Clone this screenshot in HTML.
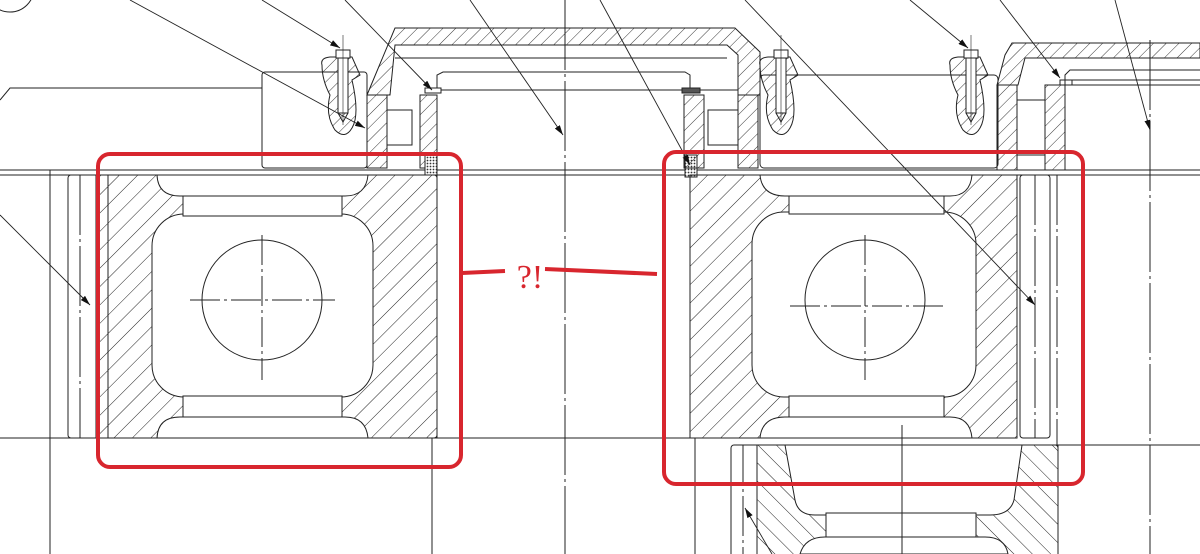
<!DOCTYPE html>
<html><head><meta charset="utf-8"><style>
html,body{margin:0;padding:0;background:#fff;width:1200px;height:554px;overflow:hidden}
svg{display:block}
</style></head><body>
<svg width="1200" height="554" viewBox="0 0 1200 554" xmlns="http://www.w3.org/2000/svg">
<defs>
<pattern id="h1" width="13" height="13" patternUnits="userSpaceOnUse" patternTransform="rotate(45)">
<line x1="0" y1="0" x2="0" y2="13" stroke="#222" stroke-width="1"/></pattern>
<pattern id="h2" width="13" height="13" patternUnits="userSpaceOnUse" patternTransform="rotate(-45)">
<line x1="0" y1="0" x2="0" y2="13" stroke="#222" stroke-width="1"/></pattern>
<pattern id="h3" width="9" height="9" patternUnits="userSpaceOnUse" patternTransform="rotate(45)">
<line x1="0" y1="0" x2="0" y2="9" stroke="#222" stroke-width="0.9"/></pattern>
<pattern id="x" width="3" height="3" patternUnits="userSpaceOnUse">
<rect width="3" height="3" fill="#fff"/><circle cx="1.5" cy="1.5" r="0.9" fill="#333"/></pattern>
<marker id="a" markerWidth="10" markerHeight="6" refX="10" refY="3" orient="auto" markerUnits="userSpaceOnUse">
<path d="M0,0 L10,3 L0,6z" fill="#111"/></marker>
</defs>
<g fill="none" stroke="#222" stroke-width="1">
<circle cx="10" cy="-12" r="24"/>
<path d="M0,100 L10,88 L262,88"/>
<line x1="0" y1="170" x2="1200" y2="170"/>
<line x1="0" y1="175" x2="1200" y2="175"/>
<line x1="0" y1="438" x2="700" y2="438"/>
<line x1="1040" y1="445" x2="1200" y2="445"/>
<line x1="50" y1="170" x2="50" y2="554"/>
<line x1="432" y1="438" x2="432" y2="554"/>
<line x1="565" y1="0" x2="565" y2="554" stroke-dasharray="70 4 3 4"/>
<line x1="1150" y1="40" x2="1150" y2="554" stroke-dasharray="70 4 3 4"/>
<line x1="695" y1="438" x2="695" y2="554"/>
<rect x="262" y="72" width="105" height="96" rx="3"/>
<path d="M367,95 L395,28 L735,28 L760,52 L760,95 L738,95 L738,55 L727,45 L395,45 L390,95 Z" fill="url(#h3)"/>
<line x1="395" y1="58" x2="727" y2="58"/>
<path d="M437,90 L437,75 L443,72 L685,72 L690,75 L690,90 Z"/>
<line x1="437" y1="90" x2="738" y2="90"/>
<rect x="425" y="88" width="16" height="5" fill="#fff"/>
<rect x="682" y="88" width="18" height="5" fill="#555"/>
<rect x="367" y="95" width="20" height="73" fill="url(#h3)"/>
<rect x="420" y="95" width="17" height="73" fill="url(#h3)"/>
<rect x="387" y="110" width="25" height="35"/>
<rect x="425" y="155" width="12" height="20" fill="url(#x)"/>
<rect x="685" y="155" width="12" height="22" fill="url(#x)"/>
<rect x="684" y="95" width="20" height="73" fill="url(#h3)"/>
<rect x="738" y="95" width="20" height="73" fill="url(#h3)"/>
<rect x="708" y="110" width="30" height="35"/>
<rect x="760" y="75" width="238" height="93" rx="4"/>
<path d="M997,85 L1005,55 L1012,43 L1200,43 L1200,58 L1025,58 L1018,85 Z" fill="url(#h3)"/>
<path d="M1065,85 L1065,75 L1070,70 L1200,70"/><line x1="1065" y1="80" x2="1200" y2="80"/><line x1="1065" y1="85" x2="1200" y2="85"/>
<rect x="1060" y="80" width="12" height="5"/>
<rect x="997" y="85" width="20" height="85" fill="url(#h3)"/>
<rect x="1045" y="85" width="20" height="85" fill="url(#h3)"/>
<rect x="1017" y="100" width="28" height="55"/>
<g id="b">
<path d="M322,65 Q320,58 330,57 L352,57 L360,75 L352,80 Q360,115 352,128 Q345,140 335,130 Q325,115 330,95 Q322,80 322,65Z" fill="url(#h3)"/>
<rect x="336" y="50" width="14" height="8" fill="#fff"/>
<rect x="338" y="58" width="10" height="55" fill="#fff"/>
<path d="M338,113 L343,122 L348,113"/>
<line x1="343" y1="35" x2="343" y2="125" stroke-width="0.6"/>
</g>
<use href="#b" x="438"/>
<use href="#b" x="628"/>
<rect x="68" y="175" width="369" height="263" rx="3"/>
<line x1="80" y1="175" x2="80" y2="438" stroke-dasharray="60 4 3 4"/>
<rect x="96" y="175" width="341" height="263" fill="url(#h1)"/>
<rect x="152" y="214" width="221" height="183" rx="32" fill="#fff"/>
<rect x="183" y="196" width="159" height="20" fill="#fff"/>
<path d="M157,175 Q158,196 180,196 L345,196 Q366,196 368,175 Z" fill="#fff"/>
<rect x="183" y="396" width="159" height="21" fill="#fff"/>
<path d="M157,438 Q158,417 180,417 L345,417 Q366,417 368,438 Z" fill="#fff"/>
<line x1="108" y1="175" x2="108" y2="438"/>
<circle cx="262" cy="300" r="60"/>
<line x1="190" y1="300" x2="335" y2="300" stroke-dasharray="30 4 3 4"/>
<line x1="262" y1="235" x2="262" y2="380" stroke-dasharray="30 4 3 4"/>
<rect x="690" y="175" width="327" height="263" fill="url(#h1)"/>
<rect x="752" y="212" width="224" height="185" rx="32" fill="#fff"/>
<rect x="789" y="196" width="155" height="18" fill="#fff"/>
<path d="M760,175 Q762,196 785,196 L950,196 Q970,196 972,175 Z" fill="#fff"/>
<rect x="789" y="396" width="155" height="21" fill="#fff"/>
<path d="M760,438 Q762,417 785,417 L950,417 Q970,417 972,438 Z" fill="#fff"/>
<circle cx="865" cy="300" r="60"/>
<line x1="790" y1="306" x2="945" y2="306" stroke-dasharray="30 4 3 4"/>
<line x1="865" y1="235" x2="865" y2="380" stroke-dasharray="30 4 3 4"/>
<rect x="1020" y="175" width="30" height="263" rx="3"/>
<line x1="1035" y1="175" x2="1035" y2="438" stroke-dasharray="50 4 3 4"/>
<line x1="1057" y1="175" x2="1057" y2="445" stroke-dasharray="50 4 3 4"/>
<rect x="731" y="445" width="327" height="120" rx="3"/>
<rect x="757" y="445" width="301" height="120" fill="url(#h2)"/>
<path d="M785,445 L1022,445 L1014,500 Q1010,515 990,515 L815,515 Q798,515 795,500 Z" fill="#fff"/>
<rect x="826" y="513" width="150" height="25" fill="#fff"/>
<path d="M800,554 Q805,537 825,537 L985,537 Q1005,537 1008,554 Z" fill="#fff"/>
<line x1="743" y1="445" x2="743" y2="554" stroke-dasharray="40 4 3 4"/>
<line x1="902" y1="425" x2="902" y2="554"/>
<g stroke-width="0.9">
<line x1="130" y1="0" x2="365" y2="128" marker-end="url(#a)"/>
<line x1="262" y1="0" x2="340" y2="48" marker-end="url(#a)"/>
<line x1="345" y1="0" x2="432" y2="90" marker-end="url(#a)"/>
<line x1="470" y1="0" x2="563" y2="135" marker-end="url(#a)"/>
<line x1="600" y1="0" x2="690" y2="165" marker-end="url(#a)"/>
<line x1="745" y1="0" x2="1035" y2="305" marker-end="url(#a)"/>
<line x1="910" y1="0" x2="968" y2="48" marker-end="url(#a)"/>
<line x1="1000" y1="0" x2="1060" y2="78" marker-end="url(#a)"/>
<line x1="1115" y1="0" x2="1150" y2="130" marker-end="url(#a)"/>
<line x1="0" y1="215" x2="90" y2="305" marker-end="url(#a)"/>
<line x1="772" y1="554" x2="745" y2="508" marker-end="url(#a)"/>
</g>
</g>
<g fill="none" stroke="#d8262e" stroke-width="4">
<rect x="98" y="154" width="363" height="313" rx="12"/>
<rect x="664" y="152" width="419" height="332" rx="12"/>
<path d="M462,273 L505,271"/>
<path d="M545,269 L657,274"/>
</g>
<text x="530" y="288" font-family="Liberation Serif, serif" font-size="34" fill="#d8262e" text-anchor="middle">?!</text>
</svg>
</body></html>
